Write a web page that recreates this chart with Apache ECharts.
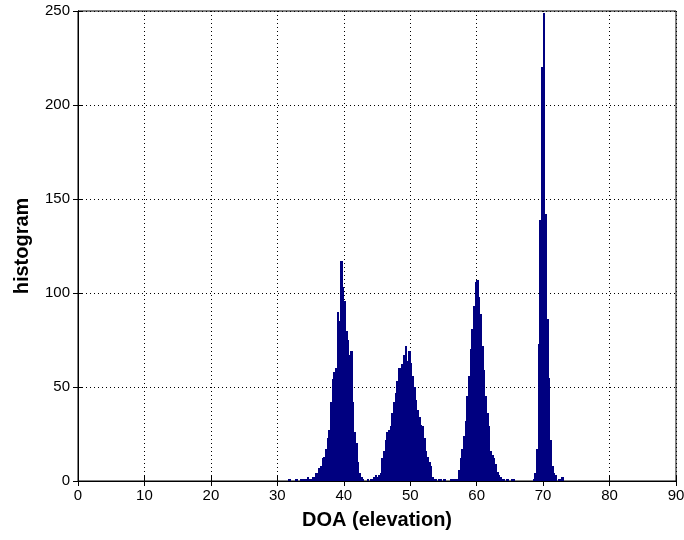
<!DOCTYPE html>
<html>
<head>
<meta charset="utf-8">
<script src="https://cdn.jsdelivr.net/npm/echarts@6/dist/echarts.min.js"></script>
<style>html,body{margin:0;padding:0;background:#fff}#c{width:684px;height:540px}</style>
</head>
<body>
<div id="c"></div>
<script>
// Histogram bin width (degrees)
const binWidth = 0.25;
// Bin start positions (degrees) and counts for each cluster
const bins1 = [31.75,32.75,33.5,34,34.25,34.5,34.75,35,35.25,35.5,35.75,36,36.25,36.5,36.75,37,37.25,37.5,37.75,38,38.25,38.5,38.75,39,39.25,39.5,39.75,40,40.25,40.5,40.75,41,41.25,41.5,41.75,42,42.25,42.5,42.75,43.5];
const counts1 = [1,1,1,1,1,2,1,1,2,2,4,4,7,8,12,13,17,23,27,42,54,58,60,90,85,117,103,96,80,75,67,69,42,26,20,10,4,2,1,1];
const bins2 = [44,44.25,44.5,44.75,45,45.25,45.5,45.75,46,46.25,46.5,46.75,47,47.25,47.5,47.75,48,48.25,48.5,48.75,49,49.25,49.5,49.75,50,50.25,50.5,50.75,51,51.25,51.5,51.75,52,52.25,52.5,52.75,53,53.25,53.5,53.75,54.25,54.5,55,56,56.5];
const counts2 = [1,1,2,3,2,3,4,12,16,22,26,27,29,36,42,47,53,60,59,62,67,72,64,69,63,56,50,43,38,34,30,29,23,16,13,10,8,2,1,1,1,1,1,1,1];
const bins3 = [56.25,56.75,57,57.25,57.5,57.75,58,58.25,58.5,58.75,59,59.25,59.5,59.75,60,60.25,60.5,60.75,61,61.25,61.5,61.75,62,62.25,62.5,62.75,63,63.25,63.5,63.75,64,64.5,65.25,65.5];
const counts3 = [1,1,1,6,12,17,24,32,45,56,70,81,93,106,107,98,89,72,59,45,36,29,16,14,12,9,5,3,2,1,1,1,1,1];
const bins4 = [68.5,68.75,69,69.25,69.5,69.75,70,70.25,70.5,70.75,71,71.25,71.5,71.75,72.25,72.5,72.75];
const counts4 = [1,4,17,73,139,220,249,142,86,55,22,8,4,3,1,1,2];
// Axis ticks
const xTicks = [0,10,20,30,40,50,60,70,80,90];
const yTicks = [0,50,100,150,200,250];

const binStarts = [].concat(bins1, bins2, bins3, bins4);
const binCounts = [].concat(counts1, counts2, counts3, counts4);
const data = binStarts.map((b, i) => [b, binCounts[i]]);

const chart = echarts.init(document.getElementById('c'), null, {renderer: 'canvas'});
const font = 'Liberation Sans, Arial, sans-serif';
const xMin = xTicks[0], xMax = xTicks[xTicks.length-1];
const yMin = yTicks[0], yMax = yTicks[yTicks.length-1];
chart.setOption({
  animation: false,
  backgroundColor: '#fff',
  grid: {left: 78, right: 8, top: 11, bottom: 59, containLabel: false, outerBoundsMode: 'none',
         show: true, borderColor: '#000', borderWidth: 1, backgroundColor: '#fff'},
  xAxis: [{
    type: 'value', min: xMin, max: xMax, interval: 10,
    name: 'DOA (elevation)', nameLocation: 'middle', nameGap: 29,
    nameTextStyle: {fontFamily: font, fontSize: 20, fontWeight: 'bold', color: '#000'},
    axisLine: {show: true, lineStyle: {color: '#000', width: 1}},
    axisTick: {show: true, inside: true, length: 5, lineStyle: {color: '#000'}},
    axisLabel: {fontFamily: font, fontSize: 15, color: '#000', margin: 7},
    splitLine: {show: true, lineStyle: {color: '#000', type: [1, 3], width: 1}}
  }, {
    type: 'value', position: 'top', min: xMin, max: xMax, interval: 10,
    axisLine: {show: true, lineStyle: {color: '#000', width: 1}},
    axisTick: {show: true, inside: true, length: 5, lineStyle: {color: '#000'}},
    axisLabel: {show: false}, splitLine: {show: false}
  }],
  yAxis: [{
    type: 'value', min: yMin, max: yMax, interval: 50,
    name: 'histogram', nameLocation: 'middle', nameGap: 46, nameRotate: 90,
    nameTextStyle: {fontFamily: font, fontSize: 20, fontWeight: 'bold', color: '#000'},
    axisLine: {show: true, lineStyle: {color: '#000', width: 1}},
    axisTick: {show: true, inside: true, length: 5, lineStyle: {color: '#000'}},
    axisLabel: {fontFamily: font, fontSize: 15, color: '#000', margin: 8},
    splitLine: {show: true, lineStyle: {color: '#000', type: [1, 3], width: 1}}
  }, {
    type: 'value', position: 'right', min: yMin, max: yMax, interval: 50,
    axisLine: {show: true, lineStyle: {color: '#000', width: 1}},
    axisTick: {show: true, inside: true, length: 5, lineStyle: {color: '#000'}},
    axisLabel: {show: false}, splitLine: {show: false}
  }],
  series: [{
    type: 'custom',
    data: data,
    clip: true,
    xAxisIndex: 0, yAxisIndex: 0,
    renderItem: function (params, api) {
      const start = api.value(0);
      const val = api.value(1);
      const p0 = api.coord([start, 0]);
      const p1 = api.coord([start + binWidth, val]);
      const x0 = Math.floor(p0[0]);
      const x1 = Math.ceil(p1[0]);
      const yTop = Math.round(p1[1]);
      const yBot = Math.round(p0[1]);
      return {
        type: 'rect',
        shape: {x: x0, y: yTop, width: x1 - x0, height: yBot - yTop},
        style: {fill: '#000080', stroke: null, lineWidth: 0}
      };
    },
    encode: {x: 0, y: 1}
  }]
});
</script>
</body>
</html>
